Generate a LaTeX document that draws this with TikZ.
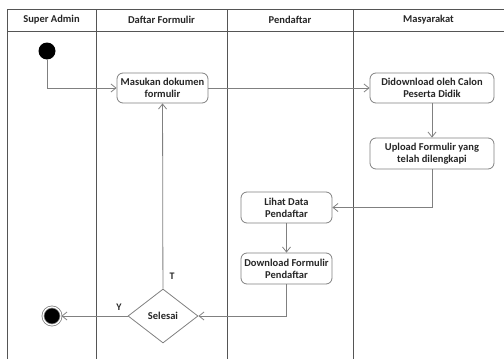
\documentclass[tikz,border=0pt]{standalone}
\usepackage{fontspec}
\setmainfont{Carlito}
\usepackage{tikz}
\usetikzlibrary{arrows.meta,shapes.geometric}
\definecolor{laneC}{HTML}{555555}
\definecolor{lineC}{HTML}{808080}
\tikzstyle{lane}=[draw=laneC, line width=0.9pt]
\tikzstyle{edge}=[draw=lineC, line width=0.8pt, -{Straight Barb[length=5pt,width=8pt]}]
\tikzstyle{act}=[rectangle, rounded corners=6pt, draw=lineC, line width=0.8pt, align=center, inner sep=1pt, font=\fontsize{10.5}{12}\selectfont\bfseries, text=black!85]
\tikzstyle{dec}=[diamond, draw=lineC, line width=0.8pt, inner sep=0pt, minimum width=70pt, minimum height=54pt, font=\fontsize{10.5}{12}\selectfont\bfseries, text=black!85]
\tikzstyle{head}=[font=\fontsize{10.5}{12}\selectfont\bfseries, text=black!85]
\tikzstyle{guard}=[font=\fontsize{10}{12}\selectfont\bfseries, text=black!85]
\tikzstyle{startV}=[circle, fill=black, minimum size=17pt, inner sep=0pt]
\tikzstyle{endV}=[circle, fill=black, draw=lineC, double=white, double distance=1.2pt, line width=0.8pt, minimum size=18pt, inner sep=0pt]

\begin{document}
\begin{tikzpicture}[x=1pt, y=-1pt]
      \useasboundingbox (0,0) rectangle (504,359);
      % swimlanes
      \draw[lane] (504,9) -- (7,9) -- (7,359);
      \draw[lane] (7,31) -- (504,31);
      \draw[lane] (96,9) -- (96,359);
      \draw[lane] (227,9) -- (227,359);
      \draw[lane] (353,9) -- (353,359);
      \node(h1) [head] at (51.5,20){Super Admin};
      \node(h2) [head] at (161.5,20){Daftar Formulir};
      \node(h3) [head] at (290,20){Pendaftar};
      \node(h4) [head] at (428.5,20){Masyarakat};
      % activities
      \node(start) [startV] at (47,51){};
      \node(mas) [act, minimum width=91pt, minimum height=30pt] at (162.5,88){Masukan dokumen\\formulir};
      \node(dld) [act, minimum width=124pt, minimum height=30pt] at (432,88){Didownload oleh Calon\\Peserta Didik};
      \node(upl) [act, minimum width=124pt, minimum height=31pt] at (432,153.5){Upload Formulir yang\\telah dilengkapi};
      \node(lihat) [act, minimum width=91pt, minimum height=31pt] at (286.5,207.5){Lihat Data\\Pendaftar};
      \node(dlf) [act, minimum width=91pt, minimum height=31pt] at (286.5,268.5){Download Formulir\\Pendaftar};
      \node(sel) [dec] at (163,316){Selesai};
      \node(end) [endV] at (52,316){};
      \node(gT) [guard] at (172,276){T};
      \node(gY) [guard] at (119,307){Y};
      % flows
      \draw[edge] (start) |- (mas);
      \draw[edge] (mas) -- (dld);
      \draw[edge] (dld) -- (upl);
      \draw[edge] (upl) |- (lihat);
      \draw[edge] (lihat) -- (dlf);
      \draw[edge] (dlf) |- (sel);
      \draw[edge] (sel) -- (mas);
      \draw[edge] (sel) -- (end);
    \end{tikzpicture}
\end{document}
